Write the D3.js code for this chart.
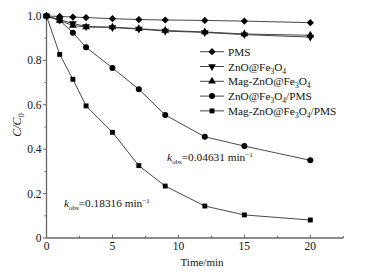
<!DOCTYPE html>
<html lang="en">
<head>
    <meta charset="UTF-8">
    <title>C/C0 vs time</title>
    <script src="https://d3js.org/d3.v7.min.js"></script>
    <style>
        body { margin: 0; background: #fff; }
        text { font-family: "Liberation Serif", "Times New Roman", serif; fill: #111; }
        .axis path, .axis line { stroke: #666; }
    </style>
</head>
<body>
    <svg id="chart" width="370" height="277"></svg>
    <script>
        // data
        const times = [0, 1, 2, 3, 5, 7, 9, 12, 15, 20];
        const pms = [1.0, 0.998, 0.995, 0.993, 0.988, 0.984, 0.982, 0.980, 0.977, 0.970];
        const znoFe = [1.0, 0.984, 0.966, 0.953, 0.948, 0.941, 0.932, 0.926, 0.916, 0.905];
        const magZnoFe = [1.0, 0.980, 0.957, 0.950, 0.950, 0.943, 0.935, 0.928, 0.919, 0.913];
        const znoFePms = [1.0, 0.980, 0.925, 0.859, 0.766, 0.670, 0.554, 0.456, 0.414, 0.350];
        const magZnoFePms = [1.0, 0.827, 0.715, 0.595, 0.476, 0.326, 0.234, 0.144, 0.104, 0.081];
        const xTicks = [0, 5, 10, 15, 20];
        const yTicks = [0, 0.2, 0.4, 0.6, 0.8, 1.0];

        const series = [
            { name: [["PMS"]], values: pms, symbol: "diamond" },
            { name: [["ZnO@Fe"], ["3", 1], ["O"], ["4", 1]], values: znoFe, symbol: "down" },
            { name: [["Mag-ZnO@Fe"], ["3", 1], ["O"], ["4", 1]], values: magZnoFe, symbol: "up" },
            { name: [["ZnO@Fe"], ["3", 1], ["O"], ["4", 1], ["/PMS"]], values: znoFePms, symbol: "circle" },
            { name: [["Mag-ZnO@Fe"], ["3", 1], ["O"], ["4", 1], ["/PMS"]], values: magZnoFePms, symbol: "square" }
        ];

        const svg = d3.select("#chart");
        const x = d3.scaleLinear().domain([0, 22.5]).range([46.5, 343.3]);
        const y = d3.scaleLinear().domain([0, 1]).range([238, 16]);

        // axes
        const xAxis = svg.append("g").attr("class", "axis")
            .attr("transform", `translate(0,${y(0)})`);
        xAxis.append("line").attr("x1", x(0)).attr("x2", x(22.5)).attr("stroke-width", 1.3);
        xAxis.selectAll(".minor").data(d3.range(2.5, 23, 5)).enter().append("line")
            .attr("x1", d => x(d)).attr("x2", d => x(d)).attr("y1", 0).attr("y2", -2);
        xAxis.selectAll(".major").data(xTicks).enter().append("line")
            .attr("x1", d => x(d)).attr("x2", d => x(d)).attr("y1", 0).attr("y2", -3.5);
        xAxis.selectAll("text").data(xTicks).enter().append("text")
            .attr("x", d => x(d)).attr("y", 12).attr("text-anchor", "middle")
            .style("font-size", "11.5px").text(d => d);

        const yAxis = svg.append("g").attr("class", "axis")
            .attr("transform", `translate(${x(0)},0)`);
        yAxis.append("line").attr("y1", y(0)).attr("y2", y(1)).attr("stroke-width", 1.3);
        yAxis.selectAll(".minor").data(d3.range(0.1, 1, 0.2)).enter().append("line")
            .attr("y1", d => y(d)).attr("y2", d => y(d)).attr("x1", 0).attr("x2", -2);
        yAxis.selectAll(".major").data(yTicks).enter().append("line")
            .attr("y1", d => y(d)).attr("y2", d => y(d)).attr("x1", 0).attr("x2", -3.5);
        yAxis.selectAll("text").data(yTicks).enter().append("text")
            .attr("x", -5).attr("y", d => y(d) + 4).attr("text-anchor", "end")
            .style("font-size", "11.5px").text(d => d === 0 ? "0" : d.toFixed(1));

        // axis titles
        svg.append("text").attr("x", 202).attr("y", 266).attr("text-anchor", "middle")
            .style("font-size", "11px").text("Time/min");
        const yt = svg.append("text").attr("transform", "translate(21,125) rotate(-90)")
            .attr("text-anchor", "middle").style("font-size", "12px").style("font-style", "italic");
        yt.append("tspan").text("C/C");
        yt.append("tspan").attr("dy", 3).style("font-size", "8.5px").style("font-style", "normal").text("0");

        function drawSymbol(g, type, cx, cy) {
            if (type === "circle") {
                g.append("circle").attr("cx", cx).attr("cy", cy).attr("r", 3).attr("fill", "#000");
                return;
            }
            let sym, size, rot = 0;
            if (type === "square") { sym = d3.symbolSquare; size = 24; }
            if (type === "diamond") { sym = d3.symbolSquare; size = 26; rot = 45; }
            if (type === "up") { sym = d3.symbolTriangle; size = 26; }
            if (type === "down") { sym = d3.symbolTriangle; size = 26; rot = 180; }
            g.append("path").attr("d", d3.symbol(sym, size)())
                .attr("transform", `translate(${cx},${cy}) rotate(${rot})`)
                .attr("fill", "#000");
        }

        const line = d3.line().x((d, i) => x(times[i])).y(d => y(d));
        series.forEach(s => {
            svg.append("path").datum(s.values).attr("d", line)
                .attr("fill", "none").attr("stroke", "#333").attr("stroke-width", 0.9);
        });
        series.forEach(s => {
            const g = svg.append("g");
            s.values.forEach((v, i) => drawSymbol(g, s.symbol, x(times[i]), y(v)));
        });

        function richText(t, parts, subSize) {
            parts.forEach(p => {
                const ts = t.append("tspan").text(p[0]);
                if (p[1] === 1) ts.attr("dy", 3).style("font-size", subSize);
                else ts.attr("dy", 0);
            });
        }
        function fixDy(t) {
            // reset baseline after subscripts
            let shift = 0;
            t.selectAll("tspan").each(function () {
                const el = d3.select(this);
                const d = +el.attr("dy");
                if (d === 0 && shift !== 0) { el.attr("dy", -shift); shift = 0; }
                else shift += d;
            });
        }

        // legend
        const leg = svg.append("g");
        series.forEach((s, i) => {
            const ly = 51.7 + i * 14.8;
            leg.append("line").attr("x1", 200).attr("x2", 224).attr("y1", ly).attr("y2", ly)
                .attr("stroke", "#333").attr("stroke-width", 0.9);
            drawSymbol(leg, s.symbol, 212, ly);
            const t = leg.append("text").attr("x", 228).attr("y", ly + 4).style("font-size", "11.3px");
            richText(t, s.name, "7.5px");
            fixDy(t);
        });

        // rate constant annotations
        function kLabel(px, py, val) {
            const t = svg.append("text").attr("x", px).attr("y", py).style("font-size", "11.3px");
            t.append("tspan").style("font-style", "italic").text("k");
            t.append("tspan").attr("dy", 3).style("font-size", "7px").text("obs");
            t.append("tspan").attr("dy", -3).text("=" + val + " min");
            t.append("tspan").attr("dy", -4).style("font-size", "7px").text("\u22121");
        }
        kLabel(167, 161, "0.04631");
        kLabel(64, 207, "0.18316");
    </script>
</body>
</html>
